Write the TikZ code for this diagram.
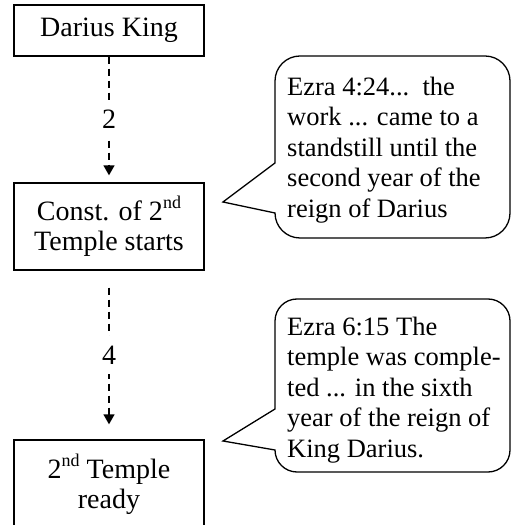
\documentclass[tikz,border=0pt]{standalone}
\usepackage{fontspec}
\setmainfont{Liberation Serif}
\usetikzlibrary{positioning,arrows.meta}

\newcommand{\ordsup}[1]{\raisebox{12pt}{\fontsize{18}{18}\selectfont #1}}

\begin{document}
\begin{tikzpicture}[
  x=1pt, y=1pt,
  event/.style={draw, line width=1.3pt, minimum width=190pt, align=center, inner sep=0pt, font=\fontsize{28}{30}\selectfont},
  years/.style={line width=1.4pt, dash pattern=on 7pt off 5pt, -{Triangle[width=11pt,length=10pt]}},
  gap/.style={fill=white, inner xsep=2pt, inner ysep=10pt, font=\fontsize{28}{30}\selectfont},
  quote/.style={align=left, inner sep=0pt, anchor=west, font=\fontsize{26.5}{30.5}\selectfont},
  bubble/.style={draw, line width=1.3pt, line join=miter}
]
  \useasboundingbox (0,0) rectangle (511,525);

  % Timeline
  \node[event, minimum height=51pt] (darius) at (109,494.5) {Darius King};
  \node[event, minimum height=87pt] (start) at (109,298.5) {Const. of 2\ordsup{nd}\\Temple starts};
  \node[event, minimum height=88pt] (ready) at (109,41) {2\ordsup{nd} Temple\\ready};

  \draw[years, shorten >=7pt] (darius) -- node[gap] (twoyrs) {2} (start);
  \draw[years, shorten <=17pt, shorten >=15pt] (start) -- node[gap] (fouryrs) {4} (ready);

  % Quotes
  \node[quote] (ezraA) at (287,375) {Ezra 4:24...\ \ the\\work ... came to a\\standstill until the\\second year of the\\reign of Darius};
  \node[quote] (ezraB) at (287,135) {Ezra 6:15 The\\temple was comple-\\ted ... in the sixth\\year of the reign of\\King Darius.};

  \coordinate (tipA) at (223,323);
  \draw[bubble] (tipA) -- (275,312) arc[start angle=180, end angle=270, radius=25]
    -- (485,287) arc[start angle=270, end angle=360, radius=25]
    -- (510,444) arc[start angle=0, end angle=90, radius=25]
    -- (300,469) arc[start angle=90, end angle=180, radius=25]
    -- (275,362) -- cycle;

  \coordinate (tipB) at (223,84);
  \draw[bubble] (tipB) -- (275,75) arc[start angle=180, end angle=270, radius=22]
    -- (488,53) arc[start angle=270, end angle=360, radius=22]
    -- (510,204) arc[start angle=0, end angle=90, radius=22]
    -- (297,226) arc[start angle=90, end angle=180, radius=22]
    -- (275,116) -- cycle;
\end{tikzpicture}
\end{document}
